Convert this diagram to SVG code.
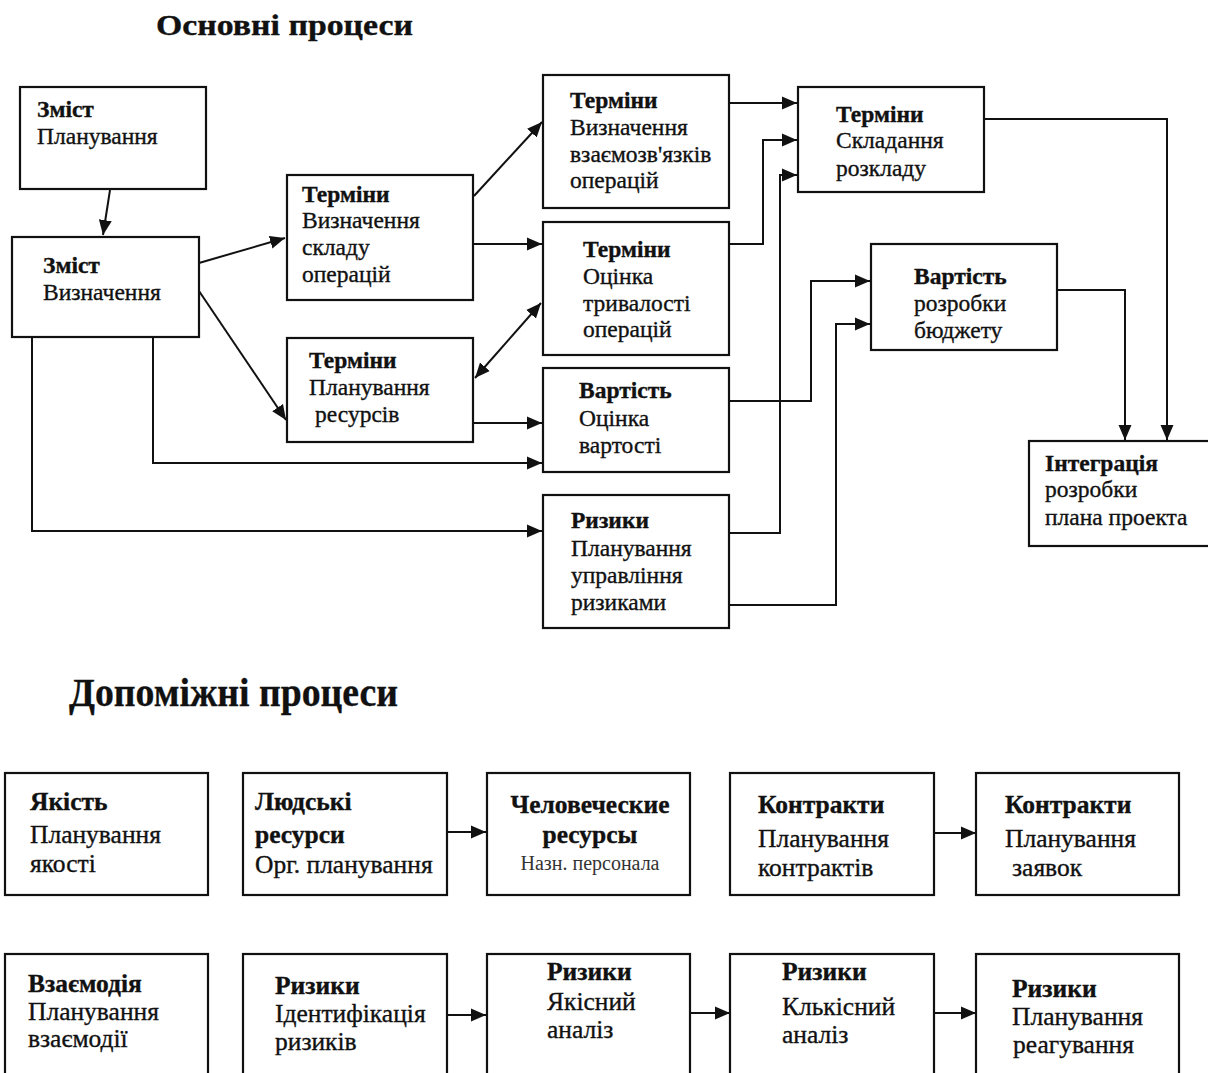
<svg xmlns="http://www.w3.org/2000/svg" width="1208" height="1073" viewBox="0 0 1208 1073">
<defs>
<style>
.box{fill:#fff;stroke:#111;stroke-width:2.2}
.c{fill:none;stroke:#111;stroke-width:2}
text{font-family:"Liberation Serif","Times New Roman",serif;fill:#111;stroke:#111;stroke-width:0.35}
.t{font-size:23.5px}
.b{font-weight:bold}
.s{font-size:25.5px}
.title{font-weight:bold}
</style>
<marker id="ah" markerUnits="userSpaceOnUse" markerWidth="16" markerHeight="14" refX="15" refY="6.5" orient="auto-start-reverse" viewBox="0 0 16 13">
<path d="M0,0 L15,6.5 L0,13 z" fill="#111"/>
</marker>
</defs>
<rect width="1208" height="1073" fill="#fff"/>

<text class="title" x="156" y="35" font-size="30" textLength="257" lengthAdjust="spacingAndGlyphs">Основні процеси</text>
<text class="title" x="69" y="706" font-size="40" textLength="329" lengthAdjust="spacingAndGlyphs">Допоміжні процеси</text>

<g id="connectors">
<path class="c" d="M110,190 L103,235" marker-end="url(#ah)"/>
<path class="c" d="M199,263 L285,238" marker-end="url(#ah)"/>
<path class="c" d="M199,291 L286,420" marker-end="url(#ah)"/>
<path class="c" d="M474,196 L542,122" marker-end="url(#ah)"/>
<path class="c" d="M473,244 L542,244" marker-end="url(#ah)"/>
<path class="c" d="M475,378 L541,303" marker-start="url(#ah)" marker-end="url(#ah)"/>
<path class="c" d="M473,423 L542,423" marker-end="url(#ah)"/>
<path class="c" d="M153,337 V463 H542" marker-end="url(#ah)"/>
<path class="c" d="M32,337 V531 H542" marker-end="url(#ah)"/>
<path class="c" d="M729,103 H797" marker-end="url(#ah)"/>
<path class="c" d="M729,244 H763 V140 H797" marker-end="url(#ah)"/>
<path class="c" d="M729,533 H780 V175 H797" marker-end="url(#ah)"/>
<path class="c" d="M729,401 H811 V281 H870" marker-end="url(#ah)"/>
<path class="c" d="M729,605 H836 V324 H870" marker-end="url(#ah)"/>
<path class="c" d="M984,119 H1167 V440" marker-end="url(#ah)"/>
<path class="c" d="M1057,290 H1125 V440" marker-end="url(#ah)"/>
<path class="c" d="M447,832 H486" marker-end="url(#ah)"/>
<path class="c" d="M934,833 H976" marker-end="url(#ah)"/>
<path class="c" d="M447,1015 H486" marker-end="url(#ah)"/>
<path class="c" d="M690,1013 H730" marker-end="url(#ah)"/>
<path class="c" d="M934,1013 H976" marker-end="url(#ah)"/>
</g>

<g id="n1"><rect class="box" x="20" y="87" width="186" height="102"/>
<text class="t"><tspan class="b" x="37" y="117">Зміст</tspan><tspan x="37" y="144">Планування</tspan></text></g>
<g id="n2"><rect class="box" x="12" y="237" width="187" height="100"/>
<text class="t"><tspan class="b" x="43" y="273">Зміст</tspan><tspan x="43" y="300">Визначення</tspan></text></g>
<g id="n3"><rect class="box" x="287" y="175" width="186" height="125"/>
<text class="t"><tspan class="b" x="302" y="202">Терміни</tspan><tspan x="302" y="228">Визначення</tspan><tspan x="302" y="255">складу</tspan><tspan x="302" y="282">операцій</tspan></text></g>
<g id="n4"><rect class="box" x="287" y="338" width="186" height="104"/>
<text class="t"><tspan class="b" x="309" y="368">Терміни</tspan><tspan x="309" y="395">Планування</tspan><tspan x="315" y="422">ресурсів</tspan></text></g>
<g id="n5"><rect class="box" x="543" y="75" width="186" height="133"/>
<text class="t"><tspan class="b" x="570" y="108">Терміни</tspan><tspan x="570" y="135">Визначення</tspan><tspan x="570" y="162">взаємозв'язків</tspan><tspan x="570" y="188">операцій</tspan></text></g>
<g id="n6"><rect class="box" x="543" y="222" width="186" height="133"/>
<text class="t"><tspan class="b" x="583" y="257">Терміни</tspan><tspan x="583" y="284">Оцінка</tspan><tspan x="583" y="311">тривалості</tspan><tspan x="583" y="337">операцій</tspan></text></g>
<g id="n7"><rect class="box" x="543" y="368" width="186" height="104"/>
<text class="t"><tspan class="b" x="579" y="398">Вартість</tspan><tspan x="579" y="426">Оцінка</tspan><tspan x="579" y="453">вартості</tspan></text></g>
<g id="n8"><rect class="box" x="543" y="495" width="186" height="133"/>
<text class="t"><tspan class="b" x="571" y="528">Ризики</tspan><tspan x="571" y="556">Планування</tspan><tspan x="571" y="583">управління</tspan><tspan x="571" y="610">ризиками</tspan></text></g>
<g id="n9"><rect class="box" x="798" y="87" width="186" height="105"/>
<text class="t"><tspan class="b" x="836" y="122">Терміни</tspan><tspan x="836" y="148">Складання</tspan><tspan x="836" y="176">розкладу</tspan></text></g>
<g id="n10"><rect class="box" x="871" y="244" width="186" height="106"/>
<text class="t"><tspan class="b" x="914" y="284">Вартість</tspan><tspan x="914" y="311">розробки</tspan><tspan x="914" y="338">бюджету</tspan></text></g>
<g id="n11"><rect class="box" x="1029" y="441" width="184" height="105"/>
<text class="t"><tspan class="b" x="1045" y="471">Інтеграція</tspan><tspan x="1045" y="497">розробки</tspan><tspan x="1045" y="525">плана проекта</tspan></text></g>

<g id="a1"><rect class="box" x="5" y="773" width="203" height="122"/>
<text class="s"><tspan class="b" x="30" y="810">Якість</tspan><tspan x="30" y="843">Планування</tspan><tspan x="30" y="872">якості</tspan></text></g>
<g id="a2"><rect class="box" x="243" y="773" width="204" height="122"/>
<text class="s"><tspan class="b" x="255" y="810">Людські</tspan><tspan class="b" x="255" y="843">ресурси</tspan><tspan x="255" y="873">Орг. планування</tspan></text></g>
<g id="a3"><rect class="box" x="487" y="773" width="203" height="122"/>
<text class="s" text-anchor="middle"><tspan class="b" x="590" y="813">Человеческие</tspan><tspan class="b" x="590" y="843">ресурсы</tspan><tspan x="590" y="870" font-size="20" fill="#333" stroke="none">Назн. персонала</tspan></text></g>
<g id="a4"><rect class="box" x="730" y="773" width="204" height="122"/>
<text class="s"><tspan class="b" x="758" y="813">Контракти</tspan><tspan x="758" y="847">Планування</tspan><tspan x="758" y="876">контрактів</tspan></text></g>
<g id="a5"><rect class="box" x="976" y="773" width="203" height="122"/>
<text class="s"><tspan class="b" x="1005" y="813">Контракти</tspan><tspan x="1005" y="847">Планування</tspan><tspan x="1012" y="876">заявок</tspan></text></g>

<g id="b1"><rect class="box" x="5" y="954" width="203" height="130"/>
<text class="s"><tspan class="b" x="28" y="992">Взаємодія</tspan><tspan x="28" y="1020">Планування</tspan><tspan x="28" y="1047">взаємодії</tspan></text></g>
<g id="b2"><rect class="box" x="243" y="954" width="204" height="130"/>
<text class="s"><tspan class="b" x="275" y="994">Ризики</tspan><tspan x="275" y="1022">Ідентифікація</tspan><tspan x="275" y="1050">ризиків</tspan></text></g>
<g id="b3"><rect class="box" x="487" y="954" width="203" height="130"/>
<text class="s"><tspan class="b" x="547" y="980">Ризики</tspan><tspan x="547" y="1010">Якісний</tspan><tspan x="547" y="1038">аналіз</tspan></text></g>
<g id="b4"><rect class="box" x="730" y="954" width="204" height="130"/>
<text class="s"><tspan class="b" x="782" y="980">Ризики</tspan><tspan x="782" y="1015">Клькісний</tspan><tspan x="782" y="1043">аналіз</tspan></text></g>
<g id="b5"><rect class="box" x="976" y="954" width="203" height="130"/>
<text class="s"><tspan class="b" x="1012" y="997">Ризики</tspan><tspan x="1012" y="1025">Планування</tspan><tspan x="1013" y="1053">реагування</tspan></text></g>
</svg>
